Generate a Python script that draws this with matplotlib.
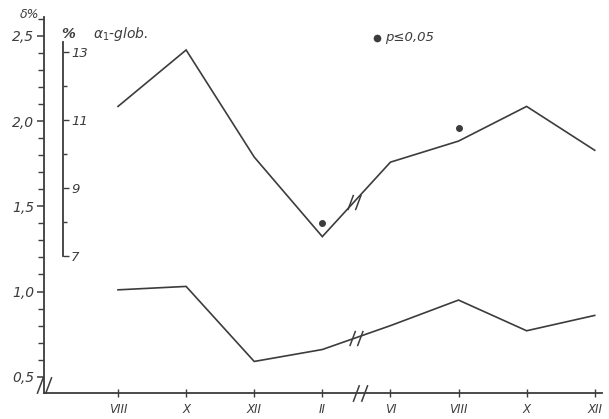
import numpy as np
import matplotlib
matplotlib.use("Agg")
import matplotlib.pyplot as plt
from matplotlib.path import Path
from matplotlib.ticker import FixedLocator

plt.rcParams["mathtext.fontset"] = "dejavusans"

# Sampling months (two seasons, break between II and VI)
months = ["VIII", "X", "XII", "II", "VI", "VIII", "X", "XII"]

# Lower curve, left scale (%)
lower_pct = [1.01, 1.03, 0.59, 0.66, 0.80, 0.95, 0.77, 0.86]

# Upper curve, alpha1-globulin (%), inner scale
alpha1_glob = [11.39, 13.05, 9.90, 7.56, 9.75, 10.37, 11.39, 10.10]

# Significant points (p <= 0.05), marked on the alpha1 curve
sig_x = [3, 5]
sig_y = [7.95, 10.75]

left_ticks = [0.5, 1.0, 1.5, 2.0, 2.5]
left_ticklabels = ["0,5", "1,0", "1,5", "2,0", "2,5"]
inner_ticks = [7, 9, 11, 13]
inner_ticklabels = ["7", "9", "11", "13"]

INK = "#3c3c3c"
W, H = 609, 419


def px(x, y):
    return x / W, 1 - y / H


fig = plt.figure(figsize=(W / 100, H / 100), dpi=100)
fig.patch.set_facecolor("white")

ax = fig.add_axes([44 / W, (H - 393) / H, (602 - 44) / W, (393 - 17) / H])
ax.set_facecolor("none")
x = np.arange(len(months))
ax.set_xlim(-1.087, 7.107)
ax.set_ylim(0.405, 2.61)

for s in ("top", "right"):
    ax.spines[s].set_visible(False)
for s in ("left", "bottom"):
    ax.spines[s].set_color(INK)
    ax.spines[s].set_linewidth(1.3)

ax.yaxis.set_major_locator(FixedLocator(left_ticks))
ax.set_yticklabels(left_ticklabels)
ax.yaxis.set_minor_locator(FixedLocator(np.round(np.arange(0.5, 2.61, 0.1), 2)))
ax.tick_params(axis="y", which="major", length=5, width=1.1, color=INK,
               labelsize=10, labelcolor=INK, pad=2)
ax.tick_params(axis="y", which="minor", length=4, width=1.0, color=INK)
for t in ax.get_yticklabels():
    t.set_fontstyle("italic")

ax.set_xticks(x)
ax.set_xticklabels(months)
ax.tick_params(axis="x", direction="inout", length=6, width=1.0, color=INK,
               labelsize=8.5, labelcolor=INK, pad=4)
for t in ax.get_xticklabels():
    t.set_fontstyle("italic")

ax.plot(x, lower_pct, color=INK, lw=1.2, solid_joinstyle="miter")

# Inner scale for alpha1-globulin
ax2 = ax.twinx()
ax2.set_facecolor("none")
ax2.set_ylim(2.96, 14.02)
for s in ("top", "left", "bottom"):
    ax2.spines[s].set_visible(False)
ax2.spines["right"].set_position(("data", -0.81))
ax2.spines["right"].set_bounds(7, 13.29)
ax2.spines["right"].set_color(INK)
ax2.spines["right"].set_linewidth(1.3)
ax2.yaxis.set_major_locator(FixedLocator(inner_ticks))
ax2.set_yticklabels(inner_ticklabels)
ax2.yaxis.set_minor_locator(FixedLocator([8, 10, 12]))
ax2.tick_params(axis="y", which="major", length=4, width=1.0, color=INK,
                labelsize=9.5, labelcolor=INK, pad=2)
ax2.tick_params(axis="y", which="minor", length=3, width=1.0, color=INK)
for t in ax2.get_yticklabels():
    t.set_fontstyle("italic")

ax2.plot(x, alpha1_glob, color=INK, lw=1.2, solid_joinstyle="miter")
ax2.plot(sig_x, sig_y, "o", color=INK, ms=4, mec=INK)

# Break symbol "//"
brk = Path([(-3.5, -4), (-0.5, 4), (0.5, -4), (3.5, 4)],
           [Path.MOVETO, Path.LINETO, Path.MOVETO, Path.LINETO])

xb = 3.5
ax.plot([xb], [np.interp(xb, x, lower_pct)], marker=brk, ms=11, mew=1.1,
        color=INK, linestyle="none")
ax2.plot([xb - 0.03], [np.interp(xb - 0.03, x, alpha1_glob)], marker=brk, ms=11,
         mew=1.1, color=INK, linestyle="none")
ax.plot([3.55], [0.405], marker=brk, ms=12, mew=1.1, color=INK,
        linestyle="none", clip_on=False)
ax.plot([-1.087], [0.45], marker=brk, ms=12, mew=1.1, color=INK,
        linestyle="none", clip_on=False)

# Labels
fig.text(*px(20, 14), "δ%", fontsize=9, style="italic", color=INK,
         va="center", ha="left")
fig.text(*px(61, 34), "%", fontsize=10, weight="bold", style="italic",
         color=INK, va="center", ha="left")
fig.text(*px(93, 34), r"$\alpha_{1}$-glob.", fontsize=10, style="italic",
         color=INK, va="center", ha="left")
ax.plot([px(377, 38)[0]], [px(377, 38)[1]], "o", ms=4.5, color=INK,
        transform=fig.transFigure, clip_on=False)
fig.text(*px(385, 38), "p≤0,05", fontsize=9.5, style="italic", color=INK,
         va="center", ha="left")

fig.savefig("out.png", dpi=100, facecolor="white")
